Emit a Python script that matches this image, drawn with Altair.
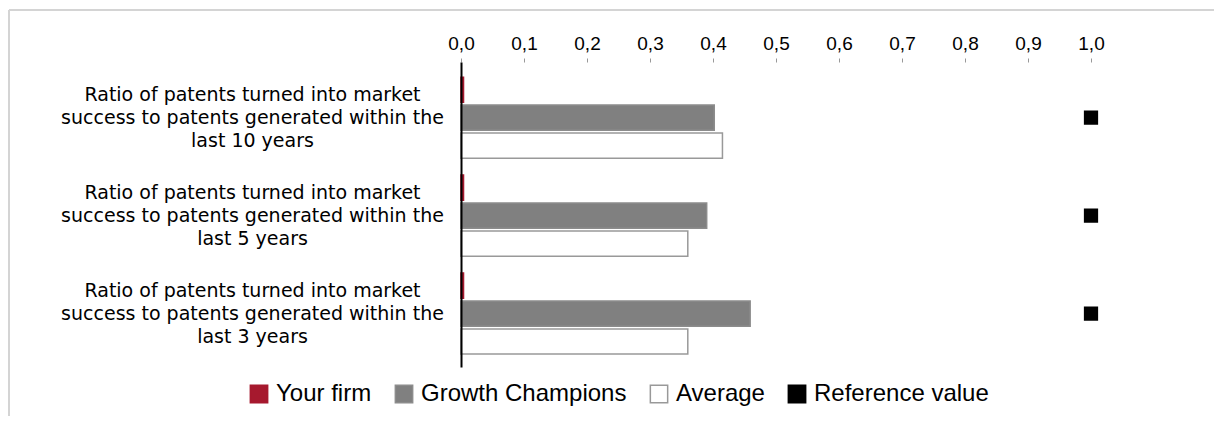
import altair as alt
import pandas as pd

categories = [
    "Ratio of patents turned into market|success to patents generated within the|last 10 years",
    "Ratio of patents turned into market|success to patents generated within the|last 5 years",
    "Ratio of patents turned into market|success to patents generated within the|last 3 years",
]
series = ["Your firm", "Growth Champions", "Average"]
your_firm = [0.004, 0.004, 0.004]
growth_champions = [0.402, 0.390, 0.459]
average = [0.415, 0.360, 0.360]
reference_value = [1.0, 1.0, 1.0]
legend_items = ["Your firm", "Growth Champions", "Average", "Reference value"]
fill_colors = ["#A6192E", "#808080", "#FFFFFF", "#000000"]
stroke_colors = ["#A6192E", "#8c8c8c", "#999999", "#000000"]
tick_values = [0.0, 0.1, 0.2, 0.3, 0.4, 0.5, 0.6, 0.7, 0.8, 0.9, 1.0]

rows = []
for i, c in enumerate(categories):
    for s, vals in zip(series, [your_firm, growth_champions, average]):
        rows.append({"category": c, "series": s, "value": vals[i]})
bars_df = pd.DataFrame(rows)
ref_df = pd.DataFrame({"category": categories, "series": "Reference value", "value": reference_value})

fill_scale = alt.Scale(domain=legend_items, range=fill_colors)
stroke_scale = alt.Scale(domain=legend_items, range=stroke_colors)

y_enc = alt.Y(
    "category:N",
    sort=categories,
    scale=alt.Scale(paddingInner=0.173, paddingOuter=0.143, align=0.54),
    axis=alt.Axis(
        title=None,
        labelExpr="split(datum.label, '|')",
        labelAlign="center",
        labelBaseline="middle",
        labelPadding=209,
        labelOffset=-23,
        labelLimit=0,
        labelFont="DejaVu Sans",
        labelFontSize=19,
        labelLineHeight=23,
        labelColor="#000000",
        ticks=False,
        domainColor="#000000",
        domainWidth=2,
        zindex=1,
    ),
)

x_enc = alt.X(
    "value:Q",
    scale=alt.Scale(domain=[0, 1], nice=False, zero=True),
    stack=None,
    axis=alt.Axis(
        title=None,
        orient="top",
        values=tick_values,
        labelExpr="replace(format(datum.value, '.1f'), '.', ',')",
        labelFont="Liberation Sans",
        labelFontSize=19,
        labelColor="#000000",
        labelPadding=5,
        labelFlush=False,
        labelOverlap=False,
        tickSize=4,
        tickColor="#999999",
        domain=False,
        grid=False,
    ),
)

legend = alt.Legend(
    title=None,
    orient="none",
    direction="horizontal",
    legendX=-214,
    legendY=320,
    symbolType="square",
    symbolSize=300,
    symbolStrokeWidth=1.5,
    labelFont="Liberation Sans",
    labelFontSize=24,
    labelColor="#000000",
    labelOffset=5,
    labelLimit=0,
    columnPadding=20,
)

bars = alt.Chart(bars_df).mark_bar(strokeWidth=1.5).encode(
    x=x_enc,
    y=y_enc,
    yOffset=alt.YOffset("series:N", sort=series, scale=alt.Scale(paddingInner=0.1, paddingOuter=0)),
    fill=alt.Fill("series:N", scale=fill_scale, legend=legend),
    stroke=alt.Stroke("series:N", scale=stroke_scale, legend=legend),
)

ref = alt.Chart(ref_df).mark_square(size=150, opacity=1).encode(
    x=alt.X("value:Q"),
    y=alt.Y("category:N", sort=categories),
    fill=alt.Fill("series:N", scale=fill_scale, legend=legend),
    stroke=alt.Stroke("series:N", scale=stroke_scale, legend=legend),
)

border_df = pd.DataFrame({"k": [0]})
border_top = alt.Chart(border_df).mark_rule(color="#d4d4d4", strokeWidth=2).encode(
    x=alt.value(-452), x2=alt.value(760), y=alt.value(-52)
)
border_left = alt.Chart(border_df).mark_rule(color="#d4d4d4", strokeWidth=2).encode(
    x=alt.value(-452), y=alt.value(-52), y2=alt.value(360)
)

chart = alt.layer(border_top, border_left, bars, ref).properties(
    width=630,
    height=305,
    autosize=alt.AutoSizeParams(type="none"),
    padding={"left": 453, "top": 54, "right": 123, "bottom": 49},
).configure_view(stroke=None)

chart.save("out.html", embed_options={"renderer": "svg", "actions": False})
